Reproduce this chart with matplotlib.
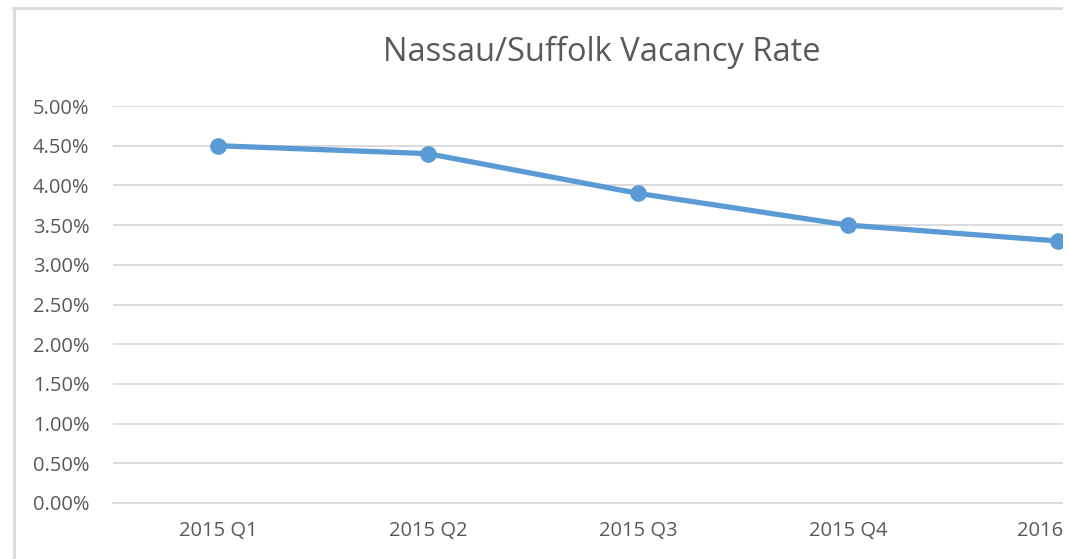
import matplotlib
matplotlib.use("Agg")
import matplotlib.pyplot as plt
from matplotlib.lines import Line2D
from matplotlib.patches import Rectangle
from matplotlib.ticker import FuncFormatter
import matplotlib.transforms as mtransforms

categories = ["2015 Q1", "2015 Q2", "2015 Q3", "2015 Q4", "2016"]
vacancy_rate = [4.5, 4.4, 3.9, 3.5, 3.3]
y_ticks = [0.0, 0.5, 1.0, 1.5, 2.0, 2.5, 3.0, 3.5, 4.0, 4.5, 5.0]
title = "Nassau/Suffolk Vacancy Rate"

W, H = 1068, 559
plt.rcParams['font.family'] = ['Open Sans', 'DejaVu Sans']
fig = plt.figure(figsize=(W / 100, H / 100), dpi=100)
fig.patch.set_facecolor('white')

# plot area in pixels (extends beyond the cropped right edge)
left_px, right_px, top_px, bottom_px = 113, 1163, 106, 503
ax = fig.add_axes([left_px / W, (H - bottom_px) / H,
                   (right_px - left_px) / W, (bottom_px - top_px) / H])
ax.set_facecolor('none')

x = list(range(len(categories)))
ax.plot(x, vacancy_rate, color='#5B9BD5', linewidth=3.8, marker='o',
        markersize=11, markerfacecolor='#5B9BD5', markeredgecolor='#5B9BD5',
        solid_capstyle='round', zorder=3, clip_on=False)

ax.set_xlim(-0.5, len(categories) - 0.5)
ax.set_ylim(0, 5.0)
ax.set_yticks(y_ticks)
ax.yaxis.set_major_formatter(FuncFormatter(lambda v, p: f"{v:.2f}%"))
ax.set_xticks(x)
ax.set_xticklabels(categories)

ax.grid(axis='y', color='#D9D9D9', linewidth=1.3)
ax.set_axisbelow(True)
for s in ax.spines.values():
    s.set_visible(False)
ax.spines['bottom'].set_visible(True)
ax.spines['bottom'].set_color('#D9D9D9')
ax.spines['bottom'].set_linewidth(1.3)

ax.tick_params(axis='y', length=0, labelsize=14.5, labelcolor='#595959', pad=17)
ax.tick_params(axis='x', length=0, labelsize=14.5, labelcolor='#595959', pad=13)

# last category label is kept inside the (cropped) chart edge
last = ax.get_xticklabels()[-1]
last.set_ha('right')
last.set_transform(last.get_transform() +
                   mtransforms.ScaledTranslation(5 / 100, 0, fig.dpi_scale_trans))

fig.text(602 / W, 1 - 52 / H, title, ha='center', va='center',
         fontsize=23.5, color='#595959')

# chart border (left and top)
fig.add_artist(Line2D([13.5 / W, 13.5 / W], [0, 1 - 7.5 / H],
                      transform=fig.transFigure, color='#D9D9D9', linewidth=2))
fig.add_artist(Line2D([13 / W, 1063 / W], [1 - 7.5 / H, 1 - 7.5 / H],
                      transform=fig.transFigure, color='#D9D9D9', linewidth=2))
# white strip at the cropped right edge
fig.add_artist(Rectangle((1063 / W, 0), 5 / W, 1, transform=fig.transFigure,
                         facecolor='white', edgecolor='none', zorder=20))

fig.savefig('out.png', dpi=100, facecolor='white')
